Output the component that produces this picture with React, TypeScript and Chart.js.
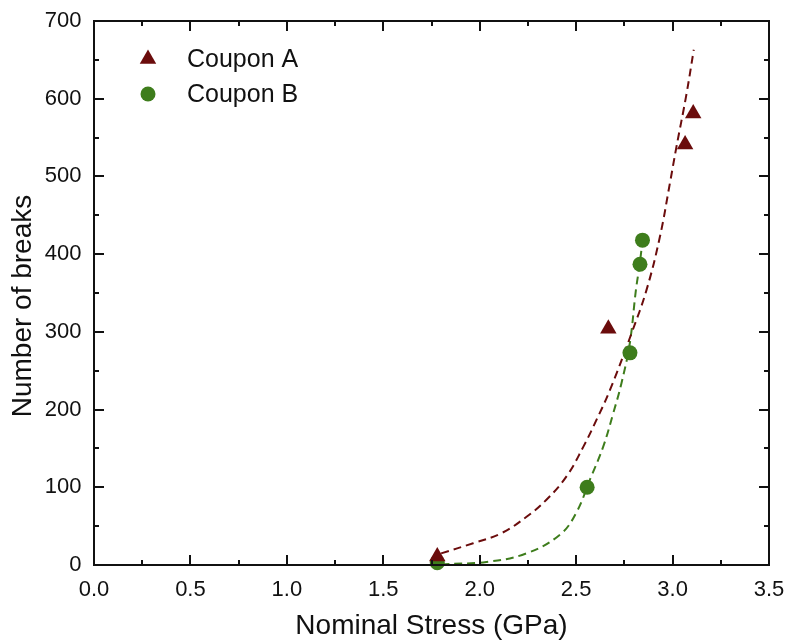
import React, { useEffect, useRef } from "react";
import { Chart, registerables } from "chart.js";

Chart.register(...registerables);

const RED = "#6b0c0c";
const GREEN = "#3e7d1c";

// Measured points
const couponAStress = [1.78, 2.667, 3.065, 3.107];
const couponABreaks = [11, 304, 541, 581];
const couponBStress = [1.78, 2.557, 2.779, 2.831, 2.844];
const couponBBreaks = [3, 100, 273, 387, 418];

// Fitted curves
const fitAStress = [1.80, 1.966, 2.113, 2.243, 2.346, 2.45, 2.537, 2.606, 2.675, 2.787, 2.865, 2.934, 2.986, 3.02, 3.07, 3.11];
const fitABreaks = [15, 28, 41, 62, 84, 114, 152, 187, 225, 298, 354, 422, 491, 538, 603, 663];
const fitBStress = [1.80, 2.035, 2.243, 2.416, 2.50, 2.575, 2.64, 2.692, 2.735, 2.778, 2.81, 2.83, 2.844];
const fitBBreaks = [1, 4, 15, 39, 67, 112, 152, 195, 234, 285, 354, 388, 418];

const xTickValues = [0, 0.5, 1.0, 1.5, 2.0, 2.5, 3.0, 3.5];
const yTickValues = [0, 100, 200, 300, 400, 500, 600, 700];

const legendLabels = ["Coupon A", "Coupon B"];
const xTitle = "Nominal Stress (GPa)";
const yTitle = "Number of breaks";

const FONT = "Liberation Sans, Arial, Helvetica, sans-serif";

const zip = (xs: number[], ys: number[]) => xs.map((x, i) => ({ x, y: ys[i] }));

const framePlugin = {
  id: "frameTicks",
  afterDraw(chart: any) {
    const { ctx, chartArea } = chart;
    const xs = chart.scales.x;
    const ys = chart.scales.y;
    const { left, right, top, bottom } = chartArea;
    ctx.save();
    ctx.strokeStyle = "#111";
    ctx.lineWidth = 2;
    ctx.strokeRect(left, top, right - left, bottom - top);
    const major = 10;
    const minor = 5;
    ctx.beginPath();
    for (let i = 0; i < xTickValues.length; i++) {
      const v = xTickValues[i];
      const px = Math.round(xs.getPixelForValue(v));
      ctx.moveTo(px, bottom); ctx.lineTo(px, bottom - major);
      ctx.moveTo(px, top); ctx.lineTo(px, top + major);
      if (i < xTickValues.length - 1) {
        const mv = (v + xTickValues[i + 1]) / 2;
        const mp = Math.round(xs.getPixelForValue(mv));
        ctx.moveTo(mp, bottom); ctx.lineTo(mp, bottom - minor);
        ctx.moveTo(mp, top); ctx.lineTo(mp, top + minor);
      }
    }
    for (let i = 0; i < yTickValues.length; i++) {
      const v = yTickValues[i];
      const py = Math.round(ys.getPixelForValue(v));
      ctx.moveTo(left, py); ctx.lineTo(left + major, py);
      ctx.moveTo(right, py); ctx.lineTo(right - major, py);
      if (i < yTickValues.length - 1) {
        const mv = (v + yTickValues[i + 1]) / 2;
        const mp = Math.round(ys.getPixelForValue(mv));
        ctx.moveTo(left, mp); ctx.lineTo(left + minor, mp);
        ctx.moveTo(right, mp); ctx.lineTo(right - minor, mp);
      }
    }
    ctx.stroke();

    // y axis title
    ctx.fillStyle = "#111";
    ctx.font = `28px ${FONT}`;
    ctx.textAlign = "center";
    ctx.textBaseline = "middle";
    ctx.save();
    ctx.translate(23, 306);
    ctx.rotate(-Math.PI / 2);
    ctx.fillText(yTitle, 0, 0);
    ctx.restore();

    // legend
    const lx = left + 54;
    const rows = [top + 38, top + 73];
    const metas = [chart.data.datasets[0], chart.data.datasets[1]];
    metas.forEach((ds: any, i: number) => {
      const cy = rows[i];
      ctx.fillStyle = ds.backgroundColor;
      ctx.beginPath();
      if (ds.pointStyle === "triangle") {
        const r = ds.pointRadius;
        ctx.moveTo(lx, cy - r);
        ctx.lineTo(lx + r * Math.sin(2 * Math.PI / 3), cy - r * Math.cos(2 * Math.PI / 3));
        ctx.lineTo(lx + r * Math.sin(4 * Math.PI / 3), cy - r * Math.cos(4 * Math.PI / 3));
        ctx.closePath();
      } else {
        ctx.arc(lx, cy, ds.pointRadius, 0, Math.PI * 2);
      }
      ctx.fill();
      ctx.fillStyle = "#111";
      ctx.font = `25px ${FONT}`;
      ctx.textBaseline = "middle";
      ctx.textAlign = "left";
      ctx.fillText(legendLabels[i], lx + 39, cy + 1.5);
    });
    ctx.restore();
  },
};

export default function App() {
  const ref = useRef<HTMLCanvasElement | null>(null);
  useEffect(() => {
    if (!ref.current) return;
    const chart = new Chart(ref.current, {
      type: "scatter",
      data: {
        datasets: [
          {
            label: legendLabels[0],
            data: zip(couponAStress, couponABreaks),
            pointStyle: "triangle",
            pointRadius: 9.5,
            backgroundColor: RED,
            borderColor: RED,
            borderWidth: 0,
            clip: false,
          } as any,
          {
            label: legendLabels[1],
            data: zip(couponBStress, couponBBreaks),
            pointStyle: "circle",
            pointRadius: 7.5,
            backgroundColor: GREEN,
            borderColor: GREEN,
            borderWidth: 0,
            clip: false,
          } as any,
          {
            label: "Fit A",
            data: zip(fitAStress, fitABreaks),
            showLine: true,
            pointRadius: 0,
            borderColor: RED,
            borderWidth: 2,
            borderDash: [8, 5],
            tension: 0.4,
            clip: false,
          } as any,
          {
            label: "Fit B",
            data: zip(fitBStress, fitBBreaks),
            showLine: true,
            pointRadius: 0,
            borderColor: GREEN,
            borderWidth: 2,
            borderDash: [8, 5],
            tension: 0.4,
            clip: false,
          } as any,
        ],
      },
      options: {
        animation: false,
        responsive: false,
        devicePixelRatio: 1,
        layout: { padding: { left: 0, right: 18, top: 21, bottom: 0 } },
        plugins: { legend: { display: false }, tooltip: { enabled: false } },
        scales: {
          x: {
            type: "linear",
            min: 0,
            max: 3.5,
            afterBuildTicks: (s: any) => {
              s.ticks = xTickValues.map((v) => ({ value: v }));
            },
            afterFit: (s: any) => {
              s.height = 78;
              s.paddingLeft = 0;
              s.paddingRight = 0;
            },
            grid: { display: false, drawTicks: false },
            border: { display: false },
            ticks: {
              padding: 12,
              color: "#111",
              font: { family: FONT, size: 22 },
              callback: (v: any) => Number(v).toFixed(1),
              maxRotation: 0,
            },
            title: {
              display: true,
              text: xTitle,
              color: "#111",
              font: { family: FONT, size: 28 },
              padding: { top: 0, bottom: 0 },
            },
          },
          y: {
            type: "linear",
            min: 0,
            max: 700,
            afterBuildTicks: (s: any) => {
              s.ticks = yTickValues.map((v) => ({ value: v }));
            },
            afterFit: (s: any) => {
              s.width = 94;
              s.paddingTop = 0;
              s.paddingBottom = 0;
            },
            grid: { display: false, drawTicks: false },
            border: { display: false },
            ticks: {
              padding: 12.5,
              color: "#111",
              font: { family: FONT, size: 22 },
              callback: (v: any) => String(v),
            },
            title: { display: false },
          },
        },
      },
      plugins: [framePlugin],
    });
    return () => chart.destroy();
  }, []);
  return (
    <div style={{ position: "fixed", left: 0, top: 0, width: 787, height: 643, background: "#fff" }}>
      <canvas ref={ref} width={787} height={643} style={{ display: "block" }} />
    </div>
  );
}
